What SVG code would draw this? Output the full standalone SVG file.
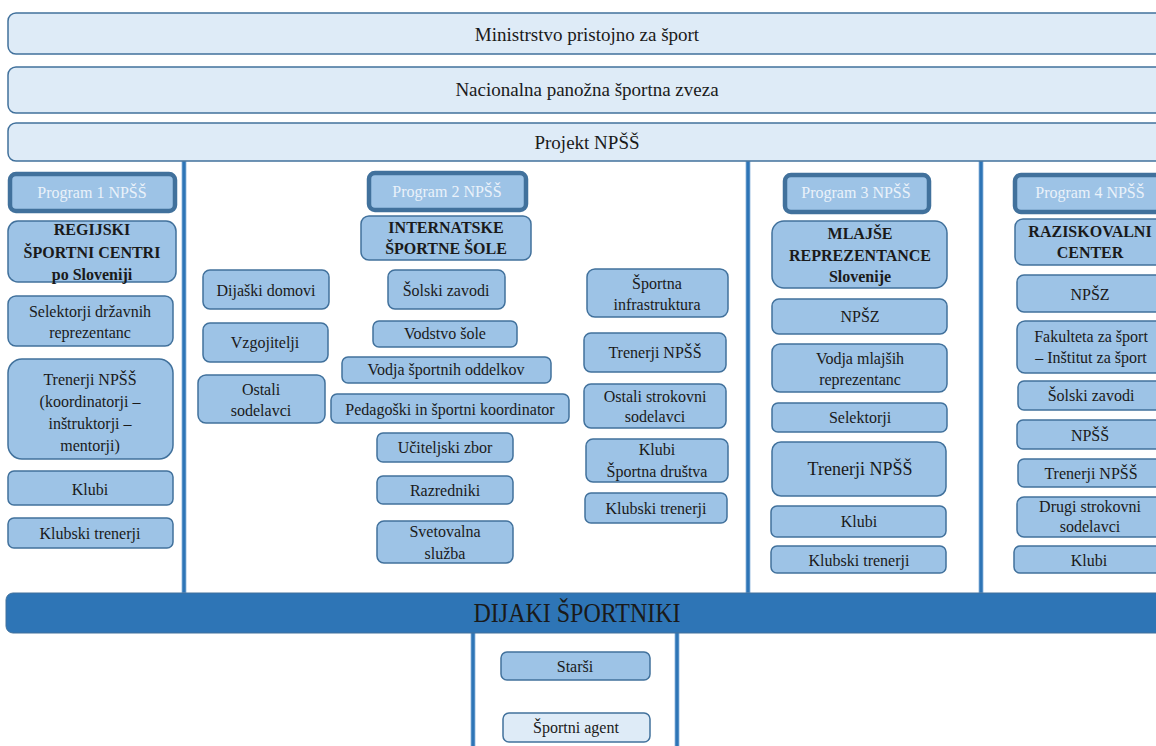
<svg xmlns="http://www.w3.org/2000/svg" width="1156" height="746" viewBox="0 0 1156 746">
<style>
text{font-family:"Liberation Serif","Times New Roman",serif;font-size:16px;fill:#1a1a1a;text-anchor:middle}
.top{fill:#DEEBF7;stroke:#41719C;stroke-width:1.5}
.tt{font-size:19px}
.n{fill:#9DC3E6;stroke:#41719C;stroke-width:1.5}
.nl{fill:#DEEBF7;stroke:#41719C;stroke-width:1.5}
.p{fill:#9DC3E6;stroke:#41719C;stroke-width:4.5}
.pt{fill:#EAF2FA}
.b{font-weight:bold}
.vl{fill:#2E75B6;stroke:#8DB4DD;stroke-width:0.8}
</style>
<g id="connectors">
<rect class="vl" x="182" y="161" width="4" height="432"/>
<rect class="vl" x="746" y="161" width="4" height="432"/>
<rect class="vl" x="979" y="161" width="4" height="432"/>
<rect class="vl" x="471" y="632" width="4" height="116"/>
<rect class="vl" x="675" y="632" width="4" height="116"/>
</g>
<g id="ministrstvo"><rect class="top" x="8" y="13" width="1160" height="41" rx="8"/><text class="tt" x="587" y="41">Ministrstvo pristojno za šport</text></g>
<g id="zveza"><rect class="top" x="8" y="67" width="1160" height="46" rx="8"/><text class="tt" x="587" y="96">Nacionalna panožna športna zveza</text></g>
<g id="projekt"><rect class="top" x="8" y="123" width="1160" height="38" rx="8"/><text class="tt" x="587" y="149">Projekt NPŠŠ</text></g>

<g id="program1"><rect class="p" x="10" y="174" width="165" height="37" rx="6"/><text class="pt" x="92" y="198">Program 1 NPŠŠ</text></g>
<g id="regijski"><rect class="n" x="8" y="221" width="168" height="61" rx="10"/><text class="b" x="92" y="235">REGIJSKI</text><text class="b" x="92" y="258">ŠPORTNI CENTRI</text><text class="b" x="92" y="280">po Sloveniji</text></g>
<g id="selektorji-drz"><rect class="n" x="8" y="296" width="165" height="50" rx="8"/><text x="90" y="317">Selektorji državnih</text><text x="90" y="338">reprezentanc</text></g>
<g id="trenerji1"><rect class="n" x="8" y="359" width="165" height="100" rx="14"/><text x="90" y="385">Trenerji NPŠŠ</text><text x="90" y="407">(koordinatorji –</text><text x="90" y="429">inštruktorji –</text><text x="90" y="451">mentorji)</text></g>
<g id="klubi1"><rect class="n" x="8" y="471" width="165" height="34" rx="6"/><text x="90" y="495">Klubi</text></g>
<g id="klubski1"><rect class="n" x="8" y="518" width="165" height="30" rx="6"/><text x="90" y="539">Klubski trenerji</text></g>

<g id="program2"><rect class="p" x="369" y="173" width="157" height="37" rx="6"/><text class="pt" x="447" y="197">Program 2 NPŠŠ</text></g>
<g id="internatske"><rect class="n" x="361" y="216" width="170" height="44" rx="8"/><text class="b" x="446" y="233">INTERNATSKE</text><text class="b" x="446" y="254">ŠPORTNE ŠOLE</text></g>
<g id="dijaski-domovi"><rect class="n" x="203" y="270" width="126" height="39" rx="7"/><text x="266" y="296">Dijaški domovi</text></g>
<g id="solski-zavodi2"><rect class="n" x="388" y="270" width="117" height="39" rx="7"/><text x="446" y="296">Šolski zavodi</text></g>
<g id="vzgojitelji"><rect class="n" x="203" y="323" width="125" height="39" rx="7"/><text x="265" y="348">Vzgojitelji</text></g>
<g id="vodstvo"><rect class="n" x="373" y="321" width="144" height="26" rx="6"/><text x="445" y="339">Vodstvo šole</text></g>
<g id="vodja-oddelkov"><rect class="n" x="342" y="357" width="209" height="26" rx="6"/><text x="446" y="375">Vodja športnih oddelkov</text></g>
<g id="ostali-sod"><rect class="n" x="198" y="375" width="127" height="48" rx="8"/><text x="261" y="395">Ostali</text><text x="261" y="416">sodelavci</text></g>
<g id="pedagoski"><rect class="n" x="331" y="394" width="238" height="29" rx="6"/><text x="450" y="415">Pedagoški in športni koordinator</text></g>
<g id="uciteljski"><rect class="n" x="377" y="433" width="136" height="29" rx="6"/><text x="445" y="453">Učiteljski  zbor</text></g>
<g id="razredniki"><rect class="n" x="377" y="476" width="136" height="28" rx="6"/><text x="445" y="496">Razredniki</text></g>
<g id="svetovalna"><rect class="n" x="377" y="521" width="136" height="42" rx="7"/><text x="445" y="537">Svetovalna</text><text x="445" y="559">služba</text></g>
<g id="infrastruktura"><rect class="n" x="587" y="269" width="141" height="48" rx="8"/><text x="657" y="289">Športna</text><text x="657" y="310">infrastruktura</text></g>
<g id="trenerji2"><rect class="n" x="584" y="333" width="142" height="39" rx="7"/><text x="655" y="358">Trenerji NPŠŠ</text></g>
<g id="ostali-strok"><rect class="n" x="584" y="384" width="142" height="44" rx="7"/><text x="655" y="402">Ostali strokovni</text><text x="655" y="422">sodelavci</text></g>
<g id="klubi2"><rect class="n" x="586" y="439" width="142" height="43" rx="7"/><text x="657" y="455">Klubi</text><text x="657" y="477">Športna društva</text></g>
<g id="klubski2"><rect class="n" x="585" y="493" width="142" height="30" rx="6"/><text x="656" y="514">Klubski trenerji</text></g>

<g id="program3"><rect class="p" x="785" y="175" width="144" height="37" rx="6"/><text class="pt" x="856" y="198">Program 3 NPŠŠ</text></g>
<g id="mlajse"><rect class="n" x="772" y="221" width="175" height="67" rx="12"/><text class="b" x="860" y="239">MLAJŠE</text><text class="b" x="860" y="261">REPREZENTANCE</text><text class="b" x="860" y="282">Slovenije</text></g>
<g id="npsz3"><rect class="n" x="772" y="299" width="175" height="35" rx="7"/><text x="860" y="322">NPŠZ</text></g>
<g id="vodja-mlajsih"><rect class="n" x="772" y="344" width="175" height="48" rx="8"/><text x="860" y="364">Vodja mlajših</text><text x="860" y="385">reprezentanc</text></g>
<g id="selektorji3"><rect class="n" x="772" y="403" width="175" height="29" rx="6"/><text x="860" y="423">Selektorji</text></g>
<g id="trenerji3"><rect class="n" x="772" y="442" width="174" height="54" rx="9"/><text x="860" y="475" style="font-size:18px">Trenerji NPŠŠ</text></g>
<g id="klubi3"><rect class="n" x="771" y="506" width="175" height="31" rx="6"/><text x="859" y="527">Klubi</text></g>
<g id="klubski3"><rect class="n" x="771" y="546" width="175" height="27" rx="6"/><text x="859" y="566">Klubski trenerji</text></g>

<g id="program4"><rect class="p" x="1015" y="175" width="160" height="37" rx="6"/><text class="pt" x="1090" y="198">Program 4 NPŠŠ</text></g>
<g id="raziskovalni"><rect class="n" x="1015" y="219" width="160" height="46" rx="8"/><text class="b" x="1090" y="237">RAZISKOVALNI</text><text class="b" x="1090" y="258">CENTER</text></g>
<g id="npsz4"><rect class="n" x="1017" y="275" width="160" height="37" rx="7"/><text x="1090" y="300">NPŠZ</text></g>
<g id="fakulteta"><rect class="n" x="1017" y="321" width="160" height="52" rx="8"/><text x="1091" y="342">Fakulteta za šport</text><text x="1091" y="363">– Inštitut za šport</text></g>
<g id="solski-zavodi4"><rect class="n" x="1018" y="381" width="160" height="29" rx="6"/><text x="1091" y="401">Šolski zavodi</text></g>
<g id="npss4"><rect class="n" x="1017" y="420" width="160" height="29" rx="6"/><text x="1090" y="441">NPŠŠ</text></g>
<g id="trenerji4"><rect class="n" x="1018" y="459" width="160" height="28" rx="6"/><text x="1091" y="479">Trenerji NPŠŠ</text></g>
<g id="drugi"><rect class="n" x="1017" y="497" width="160" height="40" rx="7"/><text x="1090" y="512">Drugi strokovni</text><text x="1090" y="532">sodelavci</text></g>
<g id="klubi4"><rect class="n" x="1014" y="546" width="160" height="27" rx="6"/><text x="1089" y="566">Klubi</text></g>

<g id="dijaki"><rect x="6" y="593" width="1160" height="40" rx="7" fill="#2E75B6" stroke="#41719C" stroke-width="1"/><text x="577" y="622" style="font-size:28px" textLength="207" lengthAdjust="spacingAndGlyphs">DIJAKI ŠPORTNIKI</text></g>
<g id="starsi"><rect class="n" x="501" y="652" width="149" height="28" rx="6"/><text x="575" y="672">Starši</text></g>
<g id="agent"><rect class="nl" x="503" y="713" width="147" height="29" rx="6"/><text x="576" y="733">Športni agent</text></g>
</svg>
